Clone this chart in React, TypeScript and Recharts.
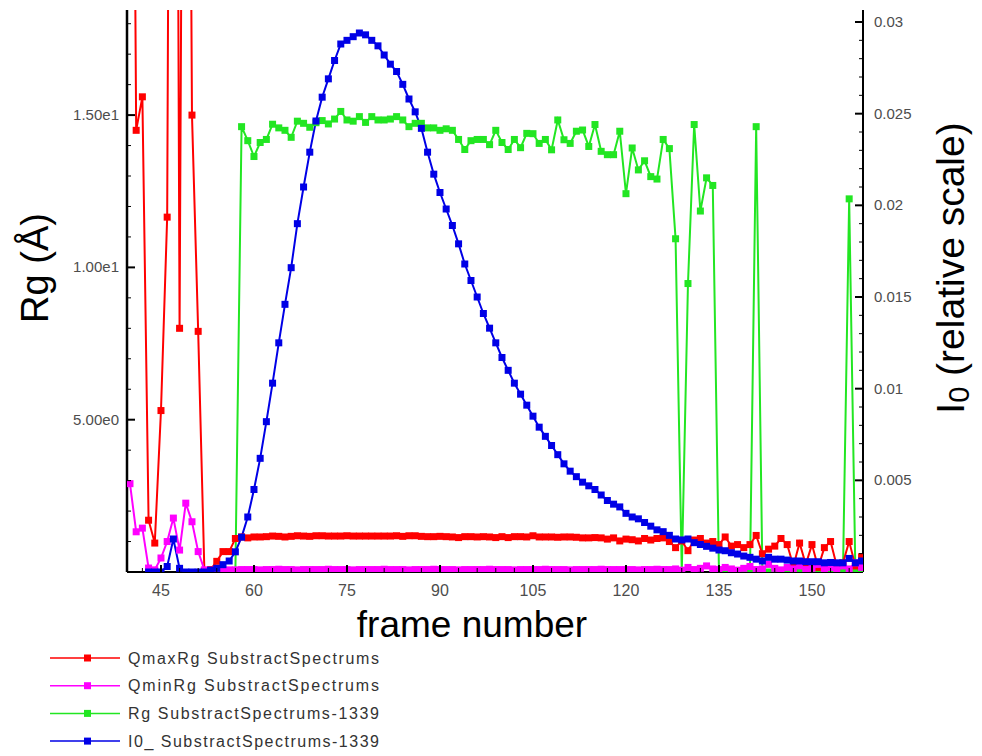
import React from 'react';
import { LineChart, Line, XAxis, YAxis } from 'recharts';

// frame numbers (x values)
const frames = [
  40, 41, 42, 43, 44, 45, 46, 47, 48, 49,
  50, 51, 52, 53, 54, 55, 56, 57, 58, 59,
  60, 61, 62, 63, 64, 65, 66, 67, 68, 69,
  70, 71, 72, 73, 74, 75, 76, 77, 78, 79,
  80, 81, 82, 83, 84, 85, 86, 87, 88, 89,
  90, 91, 92, 93, 94, 95, 96, 97, 98, 99,
  100, 101, 102, 103, 104, 105, 106, 107, 108, 109,
  110, 111, 112, 113, 114, 115, 116, 117, 118, 119,
  120, 121, 122, 123, 124, 125, 126, 127, 128, 129,
  130, 131, 132, 133, 134, 135, 136, 137, 138, 139,
  140, 141, 142, 143, 144, 145, 146, 147, 148, 149,
  150, 151, 152, 153, 154, 155, 156, 157, 158,
];

// QmaxRg SubstractSpectrums (left axis)
const qmaxRg = [
  45, 14.5, 15.6, 1.7, 0.95, 5.3, 11.65, 60, 8.0, 50,
  15.0, 7.9, 0.05, 0.08, 0.35, 0.67, 0.67, 1.1, 1.15, 1.12,
  1.15, 1.15, 1.16, 1.18, 1.17, 1.15, 1.17, 1.19, 1.18, 1.17,
  1.19, 1.19, 1.18, 1.18, 1.18, 1.19, 1.18, 1.18, 1.18, 1.18,
  1.18, 1.18, 1.18, 1.19, 1.17, 1.19, 1.19, 1.17, 1.16, 1.16,
  1.17, 1.16, 1.15, 1.13, 1.16, 1.16, 1.15, 1.16, 1.15, 1.13,
  1.16, 1.13, 1.16, 1.16, 1.15, 1.19, 1.15, 1.15, 1.15, 1.14,
  1.15, 1.15, 1.14, 1.12, 1.12, 1.13, 1.12, 1.08, 1.12, 1.02,
  1.08, 1.06, 1.02, 1.1, 1.05, 1.1, 1.12, 1.0, 0.8, 1.02,
  0.7, 1.05, 1.1, 0.95, 1.0, 0.9, 1.15, 0.85, 0.9, 0.8,
  0.9, 1.2, 0.6, 0.75, 0.85, 1.1, 0.9, 0.2, 0.95, 0.25,
  0.9, 0.15, 0.8, 1.0, 0.2, 0.3, 1.0, 0.2, 0.5,
];

// QminRg SubstractSpectrums (left axis)
const qminRg = [
  2.9, 1.32, 1.44, 0.13, 0.07, 0.46, 1.0, 1.77, 0.72, 2.26,
  1.65, 0.67, 0.07, 0.06, 0.06, 0.06, 0.07, 0.07, 0.08, 0.08,
  0.08, 0.07, 0.08, 0.08, 0.09, 0.08, 0.08, 0.07, 0.08, 0.08,
  0.08, 0.08, 0.09, 0.08, 0.08, 0.08, 0.07, 0.08, 0.08, 0.08,
  0.08, 0.09, 0.08, 0.08, 0.08, 0.07, 0.08, 0.08, 0.08, 0.09,
  0.08, 0.08, 0.08, 0.07, 0.08, 0.08, 0.08, 0.08, 0.09, 0.08,
  0.08, 0.08, 0.07, 0.08, 0.08, 0.08, 0.08, 0.09, 0.08, 0.08,
  0.08, 0.07, 0.08, 0.08, 0.08, 0.08, 0.09, 0.08, 0.08, 0.08,
  0.08, 0.08, 0.07, 0.08, 0.08, 0.09, 0.08, 0.08, 0.1, 0.06,
  0.15, 0.08, 0.12, 0.2, 0.1, 0.08, 0.15, 0.1, 0.06, 0.12,
  0.18, 0.08, 0.1, 0.25, 0.12, 0.07, 0.15, 0.1, 0.2, 0.08,
  0.12, 0.25, 0.1, 0.15, 0.08, 0.2, 0.1, 0.3, 0.15,
];

// Rg SubstractSpectrums-1339 (left axis)
const rg = [
  null, null, null, null, null, null, null, null, null, null,
  null, null, null, null, null, null, null, 0, 14.62, 14.16,
  13.64, 14.1, 14.2, 14.7, 14.58, 14.5, 14.27, 14.8, 14.73, 14.6,
  14.75, 14.82, 14.71, 14.87, 15.12, 14.84, 14.8, 14.95, 14.76, 14.95,
  14.84, 14.84, 14.87, 14.95, 14.84, 14.62, 14.73, 14.73, 14.58, 14.58,
  14.5, 14.55, 14.5, 14.2, 13.87, 14.16, 14.2, 14.2, 14.03, 14.5,
  14.1, 13.87, 14.2, 13.93, 14.4, 14.39, 14.07, 14.2, 13.86, 14.84,
  14.19, 14.07, 14.47, 14.51, 13.97, 14.69, 13.81, 13.7, 13.7, 14.47,
  12.42, 13.92, 13.2, 13.5, 12.98, 12.9, 14.2, 13.9, 10.94, 0,
  9.47, 14.69, 11.85, 12.94, 12.69, 0, 0, 0, 0, 0,
  0, 14.62, 0, 0, 0, 0, 0, 0, 0, 0,
  0, 0, 0, 0, 0, 0, 12.25, 0, 0,
];

// I0_ SubstractSpectrums-1339 (right axis)
const i0 = [
  null, null, null, 0, 0, 0, 0.0003, 0.0018, 0.0002, 0,
  0, 0, 0, 0.0001, 0.0002, 0.0004, 0.0006, 0.0011, 0.0019, 0.003,
  0.0045, 0.0062, 0.0082, 0.0103, 0.0125, 0.0146, 0.0166, 0.019, 0.021, 0.0229,
  0.0246, 0.0259, 0.0269, 0.0279, 0.0288, 0.029, 0.0292, 0.0294, 0.0293, 0.029,
  0.0287, 0.0282, 0.0277, 0.0273, 0.0266, 0.0258, 0.0251, 0.0242, 0.0229, 0.0217,
  0.0207, 0.0198, 0.0189, 0.0179, 0.0168, 0.0159, 0.015, 0.0141, 0.0133, 0.0125,
  0.0117, 0.011, 0.0103, 0.0097, 0.0091, 0.0085, 0.0079, 0.0074, 0.0069, 0.0064,
  0.0059, 0.0055, 0.0052, 0.0049, 0.0047, 0.0045, 0.0042, 0.0039, 0.0037, 0.00355,
  0.0032, 0.003, 0.0029, 0.0027, 0.0025, 0.0023, 0.0022, 0.002, 0.0018, 0.00175,
  0.0018, 0.0016, 0.0015, 0.0014, 0.0013, 0.0012, 0.00116, 0.00105, 0.00098, 0.00087,
  0.0008, 0.0007, 0.0006, 0.0008, 0.0007, 0.0007, 0.00065, 0.0006, 0.0006, 0.00056,
  0.00056, 0.00056, 0.0005, 0.00052, 0.0005, 0.0005, 0.00074, 0.0005, 0.0006,
];

// ticks
const xMajorTicks = [45, 60, 75, 90, 105, 120, 135, 150];
const xTicks = [
  42, 45, 48, 51, 54, 57, 60, 63, 66, 69, 72, 75, 78, 81, 84, 87, 90, 93, 96, 99,
  102, 105, 108, 111, 114, 117, 120, 123, 126, 129, 132, 135, 138, 141, 144, 147,
  150, 153, 156,
];
const rgMajorTicks = [5, 10, 15];
const rgTickLabels = ['5.00e0', '1.00e1', '1.50e1'];
const rgTicks = [1, 2, 3, 4, 5, 6, 7, 8, 9, 10, 11, 12, 13, 14, 15, 16, 17, 18];
const i0MajorTicks = [0.005, 0.01, 0.015, 0.02, 0.025, 0.03];
const i0TickLabels = ['0.005', '0.01', '0.015', '0.02', '0.025', '0.03'];
const i0Ticks = [
  0.001, 0.002, 0.003, 0.004, 0.005, 0.006, 0.007, 0.008, 0.009, 0.01,
  0.011, 0.012, 0.013, 0.014, 0.015, 0.016, 0.017, 0.018, 0.019, 0.02,
  0.021, 0.022, 0.023, 0.024, 0.025, 0.026, 0.027, 0.028, 0.029, 0.03,
];

const seriesInfo = [
  { key: 'qmaxRg', name: 'QmaxRg SubstractSpectrums', color: '#ff0000', axis: 'rg' },
  { key: 'qminRg', name: 'QminRg SubstractSpectrums', color: '#ff00ff', axis: 'rg' },
  { key: 'rg', name: 'Rg SubstractSpectrums-1339', color: '#22e622', axis: 'rg' },
  { key: 'i0', name: 'I0_ SubstractSpectrums-1339', color: '#0000e6', axis: 'i0' },
];
// draw order (green under red, blue on top)
const drawOrder = ['rg', 'qmaxRg', 'qminRg', 'i0'];

const data = frames.map((frame, i) => ({
  frame,
  qmaxRg: qmaxRg[i],
  qminRg: qminRg[i],
  rg: rg[i],
  i0: i0[i],
}));

const FONT = '"Liberation Sans", Arial, Helvetica, sans-serif';
const TICK_COLOR = '#4d4d4d';

const findIndex = (list: number[], v: number) =>
  list.findIndex((m) => Math.abs(m - v) < 1e-9);

const XTick = (props: any) => {
  const { x, y, payload } = props;
  const major = findIndex(xMajorTicks, payload.value) >= 0;
  return (
    <g>
      <line x1={x} x2={x} y1={y} y2={y - (major ? 7 : 4)} stroke="#000" strokeWidth={major ? 2 : 1} />
      {major && (
        <text x={x} y={y + 24} textAnchor="middle" fontSize={16} fill={TICK_COLOR} fontFamily={FONT}>
          {payload.value}
        </text>
      )}
    </g>
  );
};

const RgTick = (props: any) => {
  const { x, y, payload } = props;
  const idx = findIndex(rgMajorTicks, payload.value);
  const major = idx >= 0;
  return (
    <g>
      <line x1={x} x2={x + (major ? 8 : 4)} y1={y} y2={y} stroke="#000" strokeWidth={major ? 2 : 1} />
      {major && (
        <text x={x - 8} y={y + 5} textAnchor="end" fontSize={15} fill={TICK_COLOR} fontFamily={FONT}>
          {rgTickLabels[idx]}
        </text>
      )}
    </g>
  );
};

const I0Tick = (props: any) => {
  const { x, y, payload } = props;
  const idx = findIndex(i0MajorTicks, payload.value);
  const major = idx >= 0;
  return (
    <g>
      <line x1={x} x2={x - (major ? 8 : 4)} y1={y} y2={y} stroke="#000" strokeWidth={major ? 2 : 1} />
      {major && (
        <text x={x + 11} y={y + 5} textAnchor="start" fontSize={15} fill={TICK_COLOR} fontFamily={FONT}>
          {i0TickLabels[idx]}
        </text>
      )}
    </g>
  );
};

const squareDot = (color: string) => (props: any) => {
  const { cx, cy, index } = props;
  if (cx == null || cy == null || Number.isNaN(cy)) return <g key={index} />;
  return <rect key={index} x={cx - 3.5} y={cy - 3.5} width={7} height={7} fill={color} />;
};

const App: React.FC = () => {
  return (
    <div style={{ position: 'absolute', left: 0, top: 0, width: 982, height: 756, background: '#fff' }}>
      <LineChart
        width={982}
        height={756}
        data={data}
        margin={{ top: 10, right: 59, bottom: 156, left: 67 }}
      >
        <XAxis
          dataKey="frame"
          type="number"
          domain={[39.52, 158.23]}
          allowDataOverflow
          ticks={xTicks}
          interval={0}
          tickSize={0}
          tickMargin={0}
          tickLine={false}
          tick={<XTick />}
          height={28}
          axisLine={{ stroke: '#000', strokeWidth: 2 }}
          label={{
            content: () => (
              <text x={472} y={637} textAnchor="middle" fontSize={37} fill="#000" fontFamily={FONT}>
                frame number
              </text>
            ),
          }}
        />
        <YAxis
          yAxisId="rg"
          orientation="left"
          type="number"
          domain={[0, 18.45]}
          allowDataOverflow
          ticks={rgTicks}
          interval={0}
          tickSize={0}
          tickMargin={0}
          tickLine={false}
          tick={<RgTick />}
          width={60}
          axisLine={{ stroke: '#000', strokeWidth: 2.5 }}
          label={{
            content: () => (
              <text
                x={35}
                y={268}
                transform="rotate(-90 35 268)"
                textAnchor="middle"
                dominantBaseline="central"
                fontSize={38}
                fill="#000"
                fontFamily={FONT}
              >
                Rg (Å)
              </text>
            ),
          }}
        />
        <YAxis
          yAxisId="i0"
          orientation="right"
          type="number"
          domain={[0, 0.030655]}
          allowDataOverflow
          ticks={i0Ticks}
          interval={0}
          tickSize={0}
          tickMargin={0}
          tickLine={false}
          tick={<I0Tick />}
          width={60}
          axisLine={{ stroke: '#000', strokeWidth: 2 }}
          label={{
            content: () => (
              <text
                x={950}
                y={268}
                transform="rotate(-90 950 268)"
                textAnchor="middle"
                dominantBaseline="central"
                fontSize={39}
                fill="#000"
                fontFamily={FONT}
              >
                I<tspan fontSize={29} dy={9}>0</tspan>
                <tspan dy={-9}> (relative scale)</tspan>
              </text>
            ),
          }}
        />
        {drawOrder.map((k) => {
          const s = seriesInfo.find((e) => e.key === k)!;
          return (
            <Line
              key={s.key}
              yAxisId={s.axis}
              type="linear"
              dataKey={s.key}
              name={s.name}
              stroke={s.color}
              strokeWidth={2}
              dot={squareDot(s.color)}
              activeDot={false}
              isAnimationActive={false}
            />
          );
        })}
      </LineChart>

      <svg
        width={420}
        height={116}
        style={{ position: 'absolute', left: 0, top: 640 }}
      >
        {seriesInfo.map((s, i) => {
          const cy = 18 + i * 27.7;
          return (
            <g key={s.key}>
              <line x1={50} x2={120} y1={cy} y2={cy} stroke={s.color} strokeWidth={1.5} />
              <rect x={84} y={cy - 3.5} width={7} height={7} fill={s.color} />
              <text
                x={128}
                y={cy + 5.5}
                fontSize={16}
                fill="#333"
                fontFamily={FONT}
                textLength={251}
                lengthAdjust="spacing"
              >
                {s.name}
              </text>
            </g>
          );
        })}
      </svg>
    </div>
  );
};

export default App;
